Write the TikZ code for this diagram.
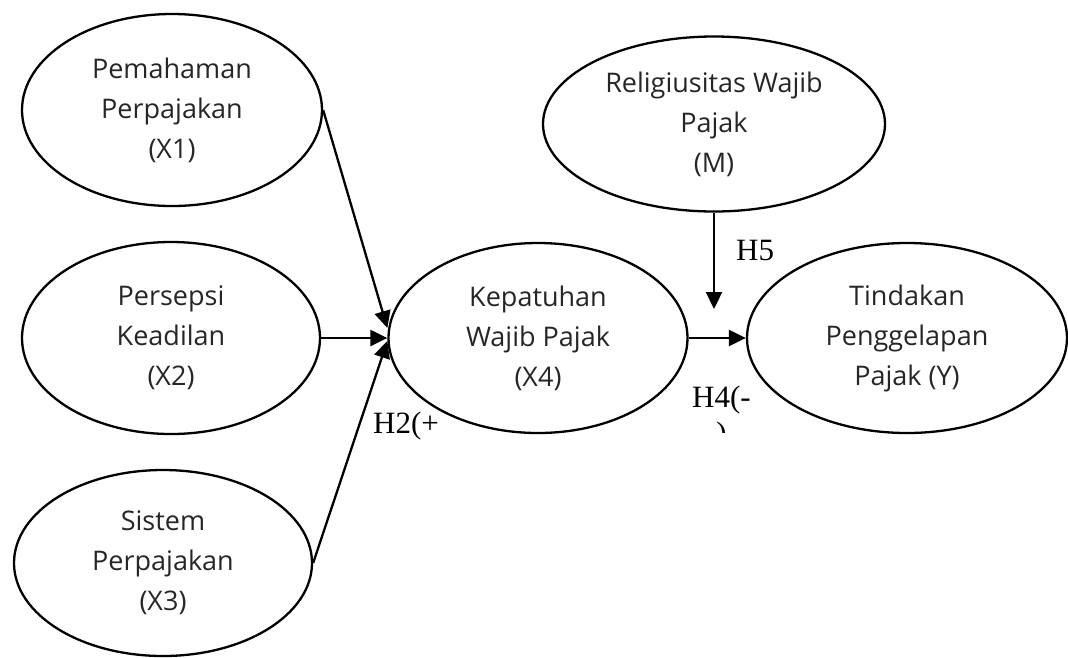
\documentclass[tikz,border=0pt]{standalone}
\usepackage{fontspec}
\setmainfont{Open Sans}
\newfontfamily\hypfont{Liberation Serif}
\usepackage{tikz}
\usetikzlibrary{arrows.meta, positioning, shapes.geometric}

\begin{document}
\begin{tikzpicture}[x=1pt, y=-1pt,
			var/.style={ellipse, draw, line width=2.3pt, inner sep=0pt, align=center,
				text=black!85, font=\fontsize{27}{40}\selectfont},
			link/.style={line width=2.3pt, -{Triangle[length=17pt,width=16pt]}},
			hyp/.style={inner sep=0pt, font=\hypfont\fontsize{31}{36}\selectfont}]
%			\draw[help lines] (0,0) grid (1068,657);
			\useasboundingbox (0,0) rectangle (1068,657);
			
			% variabel independen
			\node[var, minimum width=300pt, minimum height=192pt] (X1) at (172,110) {Pemahaman\\Perpajakan\\(X1)};
			\node[var, minimum width=298pt, minimum height=192pt] (X2) at (171,338) {Persepsi\\Keadilan\\(X2)};
			\node[var, minimum width=298pt, minimum height=186pt] (X3) at (163,563) {Sistem\\Perpajakan\\(X3)};
			
			% intervening, moderasi, dependen
			\node[var, minimum width=299pt, minimum height=190pt] (X4) at (538,338) {Kepatuhan\\Wajib Pajak\\(X4)};
			\node[var, minimum width=342pt, minimum height=175pt] (M) at (714,124) {Religiusitas Wajib\\Pajak\\(M)};
			\node[var, minimum width=320pt, minimum height=190pt] (Y) at (907,338) {Tindakan\\Penggelapan\\Pajak (Y)};
			\coordinate (Mend) at (714,309);
			
			% panah
			\draw[link] (X1.east) -- ([yshift=10pt]X4.west);
			\draw[link] (X2.east) -- (X4.west);
			\draw[link] (X3.east) -- ([yshift=-3pt]X4.west);
			\draw[link] (X4.east) -- (Y.west);
			\draw[link] (M.south) -- (Mend);
			
			% hipotesis
			\node[hyp, anchor=base west] (H5) at (736,260) {H5};
			\node[hyp, anchor=base west] (H2) at (373,433) {H2(+};
			\begin{scope}
				\clip (680,370) rectangle (780,432);
				\node[hyp, anchor=base west] (H4a) at (692,407) {H4(-};
				\node[hyp, anchor=base] (H4b) at ([yshift=-36pt]H4a.base) {)};
			\end{scope}
		\end{tikzpicture}
\end{document}
